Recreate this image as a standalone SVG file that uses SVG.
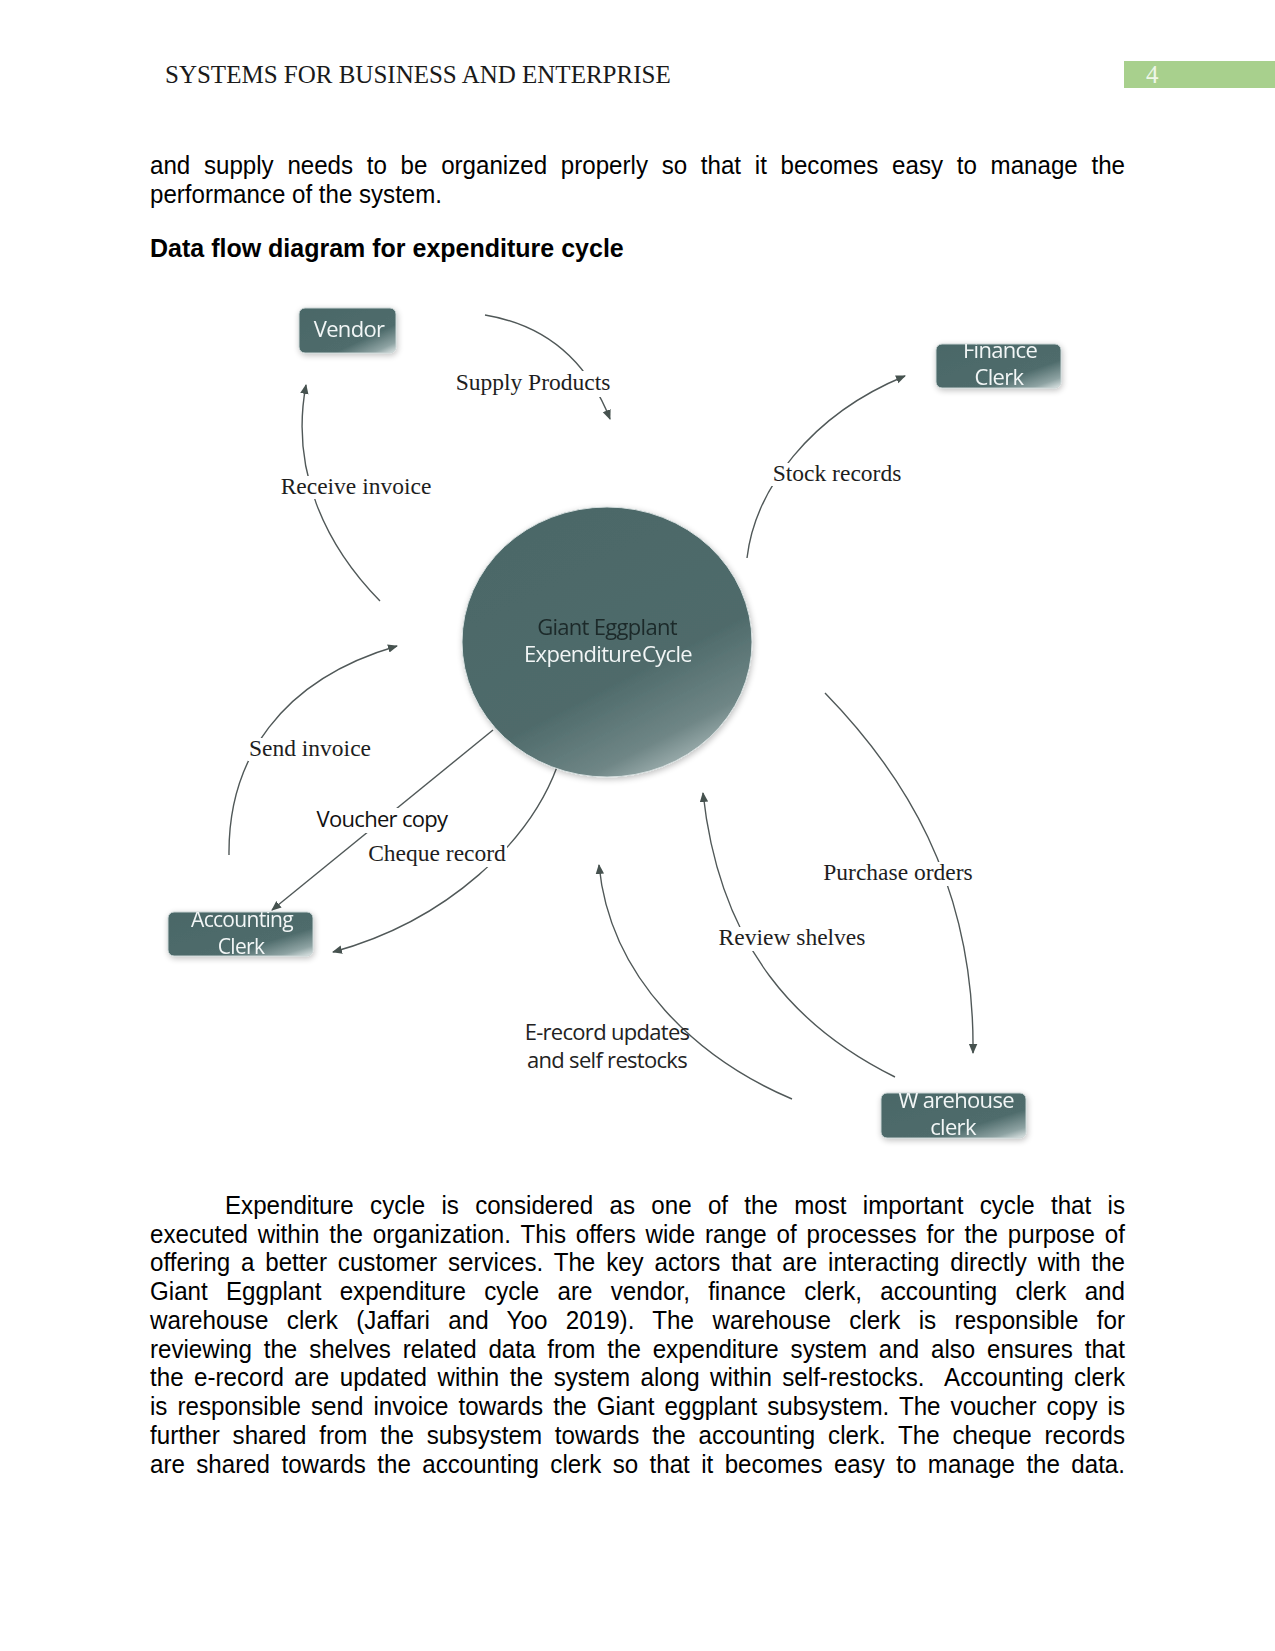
<svg xmlns="http://www.w3.org/2000/svg" width="1275" height="1651" viewBox="0 0 1275 1651">
<style>
.hdr{font-family:"Liberation Serif",serif;font-size:25px;fill:#1a1a1a}
.body{font-family:"Liberation Sans",Arial,sans-serif;font-size:25px;fill:#000}
.bold{font-family:"Liberation Sans",Arial,sans-serif;font-size:25px;font-weight:bold;fill:#000}
.lbl{font-family:"Liberation Serif",serif;font-size:23.5px;fill:#1e1e1e;text-anchor:middle}
.sans{font-family:"Open Sans","DejaVu Sans",sans-serif;font-size:22px;letter-spacing:-0.7px;text-anchor:middle}
.wt{fill:#f2f6f6}
.dk{fill:#1c2929}
.conn{fill:none;stroke:#505858;stroke-width:1.4}
.box{stroke:#c8d3d3;stroke-width:1}
.bg{fill:#fff}
</style>
<defs>
<linearGradient id="gBox" x1="0" y1="0" x2="1" y2="1">
<stop offset="0" stop-color="#4a6767"/>
<stop offset="0.68" stop-color="#4f6c6c"/>
<stop offset="0.88" stop-color="#8ea3a3"/>
<stop offset="1" stop-color="#e3eaea"/>
</linearGradient>
<linearGradient id="gCirc" x1="0.25" y1="0.1" x2="0.75" y2="1">
<stop offset="0" stop-color="#4c6868"/>
<stop offset="0.6" stop-color="#4f6b6b"/>
<stop offset="0.85" stop-color="#6f8686"/>
<stop offset="1" stop-color="#aebdbd"/>
</linearGradient>
<filter id="sh" x="-20%" y="-20%" width="140%" height="140%">
<feGaussianBlur in="SourceAlpha" stdDeviation="3"/>
<feComponentTransfer><feFuncA type="linear" slope="0.25"/></feComponentTransfer>
<feOffset dx="1" dy="2" result="s"/>
<feMerge><feMergeNode in="s"/><feMergeNode in="SourceGraphic"/></feMerge>
</filter>
<marker id="arr" viewBox="0 0 10 10" refX="9" refY="5" markerWidth="10" markerHeight="10" markerUnits="userSpaceOnUse" orient="auto">
<path d="M0,0.8 L10,5 L0,9.2 Z" fill="#46524f"/>
</marker>
<clipPath id="cFin"><rect x="936" y="344" width="125" height="44" rx="6"/></clipPath>
<clipPath id="cWar"><rect x="881" y="1093" width="145" height="45" rx="6"/></clipPath>
<clipPath id="cAcc"><rect x="168" y="912" width="145" height="44" rx="6"/></clipPath>
</defs>

<rect width="1275" height="1651" fill="#fff"/>

<!-- header -->
<text class="hdr" x="165" y="83">SYSTEMS FOR BUSINESS AND ENTERPRISE</text>
<rect x="1124" y="61" width="151" height="27" fill="#a8d08d"/>
<text class="hdr" x="1146" y="83" style="fill:#eef6e8">4</text>

<!-- intro text -->
<text class="body" x="150" y="174" word-spacing="7.26" textLength="975" lengthAdjust="spacingAndGlyphs">and supply needs to be organized properly so that it becomes easy to manage the</text>
<text class="body" x="150" y="203" textLength="292" lengthAdjust="spacingAndGlyphs">performance of the system.</text>
<text class="bold" x="150" y="257">Data flow diagram for expenditure cycle</text>

<!-- connectors -->
<g id="connectors">
<path class="conn" d="M485,315 Q575,330 610,419" marker-end="url(#arr)"/>
<path class="conn" d="M380,601 C325,545 290,470 306,385" marker-end="url(#arr)"/>
<path class="conn" d="M747,558 C755,490 810,415 905,376" marker-end="url(#arr)"/>
<path class="conn" d="M229,855 C228,760 280,680 397,646" marker-end="url(#arr)"/>
<path class="conn" d="M493,730 L272,910" marker-end="url(#arr)"/>
<path class="conn" d="M557,767 C530,840 450,920 333,952" marker-end="url(#arr)"/>
<path class="conn" d="M825,693 C900,770 975,880 973,1053" marker-end="url(#arr)"/>
<path class="conn" d="M895,1077 C800,1030 720,950 703,793" marker-end="url(#arr)"/>
<path class="conn" d="M792,1099 C700,1060 610,980 599,865" marker-end="url(#arr)"/>
</g>

<!-- central process -->
<g id="node-cycle" filter="url(#sh)">
<ellipse cx="607" cy="642" rx="145" ry="135" fill="url(#gCirc)" stroke="#d5dede" stroke-width="1"/>
<text class="sans dk" x="607" y="635">Giant Eggplant</text>
<text class="sans wt" x="608" y="662" word-spacing="-4">Expenditure Cycle</text>
</g>

<!-- entities -->
<g id="node-vendor" filter="url(#sh)">
<rect class="box" x="299" y="308" width="97" height="45" rx="6" fill="url(#gBox)"/>
<text class="sans wt" x="349" y="337">Vendor</text>
</g>
<g id="node-finance" filter="url(#sh)">
<rect class="box" x="936" y="344" width="125" height="44" rx="6" fill="url(#gBox)"/>
<g clip-path="url(#cFin)">
<text class="sans wt" x="1000" y="358">Finance</text>
<text class="sans wt" x="999" y="385">Clerk</text>
</g>
</g>
<g id="node-accounting" filter="url(#sh)">
<rect class="box" x="168" y="912" width="145" height="44" rx="6" fill="url(#gBox)"/>
<g clip-path="url(#cAcc)">
<text class="sans wt" x="242" y="927" style="font-size:21px">Accounting</text>
<text class="sans wt" x="241" y="954" style="font-size:21px">Clerk</text>
</g>
</g>
<g id="node-warehouse" filter="url(#sh)">
<rect class="box" x="881" y="1093" width="145" height="45" rx="6" fill="url(#gBox)"/>
<g clip-path="url(#cWar)">
<text class="sans wt" x="956" y="1108">W arehouse</text>
<text class="sans wt" x="953" y="1135">clerk</text>
</g>
</g>

<!-- connector labels -->
<g id="labels">
<rect class="bg" x="453" y="371" width="161" height="26"/>
<rect class="bg" x="281" y="476" width="151" height="23"/>
<rect class="bg" x="770" y="463" width="135" height="23"/>
<rect class="bg" x="248" y="738" width="124" height="23"/>
<rect class="bg" x="313" y="808" width="138" height="25"/>
<rect class="bg" x="364" y="843" width="143" height="24"/>
<rect class="bg" x="820" y="862" width="157" height="24"/>
<rect class="bg" x="720" y="927" width="144" height="24"/>
<text class="lbl" x="533" y="390">Supply Products</text>
<text class="lbl" x="356" y="494">Receive invoice</text>
<text class="lbl" x="837" y="481">Stock records</text>
<text class="lbl" x="310" y="756">Send invoice</text>
<text class="sans" x="382" y="827" style="fill:#111">Voucher copy</text>
<text class="lbl" x="437" y="861">Cheque record</text>
<text class="lbl" x="898" y="880">Purchase orders</text>
<text class="lbl" x="792" y="945">Review shelves</text>
<text class="sans" x="607" y="1040" style="fill:#222">E-record updates</text>
<text class="sans" x="607" y="1068" style="fill:#222">and self restocks</text>
</g>

<!-- body paragraph -->
<text class="body" x="225" y="1214" word-spacing="9.98" textLength="900" lengthAdjust="spacingAndGlyphs">Expenditure cycle is considered as one of the most important cycle that is</text>
<text class="body" x="150" y="1243" word-spacing="3.21" textLength="975" lengthAdjust="spacingAndGlyphs">executed within the organization. This offers wide range of processes for the purpose of</text>
<text class="body" x="150" y="1271" word-spacing="4.30" textLength="975" lengthAdjust="spacingAndGlyphs">offering a better customer services. The key actors that are interacting directly with the</text>
<text class="body" x="150" y="1300" word-spacing="11.97" textLength="975" lengthAdjust="spacingAndGlyphs">Giant Eggplant expenditure cycle are vendor, finance clerk, accounting clerk and</text>
<text class="body" x="150" y="1329" word-spacing="12.03" textLength="975" lengthAdjust="spacingAndGlyphs">warehouse clerk (Jaffari and Yoo 2019). The warehouse clerk is responsible for</text>
<text class="body" x="150" y="1358" word-spacing="5.34" textLength="975" lengthAdjust="spacingAndGlyphs">reviewing the shelves related data from the expenditure system and also ensures that</text>
<text class="body" x="150" y="1386" word-spacing="3.84" textLength="975" lengthAdjust="spacingAndGlyphs">the e-record are updated within the system along within self-restocks.&#160; Accounting clerk</text>
<text class="body" x="150" y="1415" word-spacing="3.49" textLength="975" lengthAdjust="spacingAndGlyphs">is responsible send invoice towards the Giant eggplant subsystem. The voucher copy is</text>
<text class="body" x="150" y="1444" word-spacing="6.34" textLength="975" lengthAdjust="spacingAndGlyphs">further shared from the subsystem towards the accounting clerk. The cheque records</text>
<text class="body" x="150" y="1473" word-spacing="4.87" textLength="975" lengthAdjust="spacingAndGlyphs">are shared towards the accounting clerk so that it becomes easy to manage the data.</text>
</svg>
